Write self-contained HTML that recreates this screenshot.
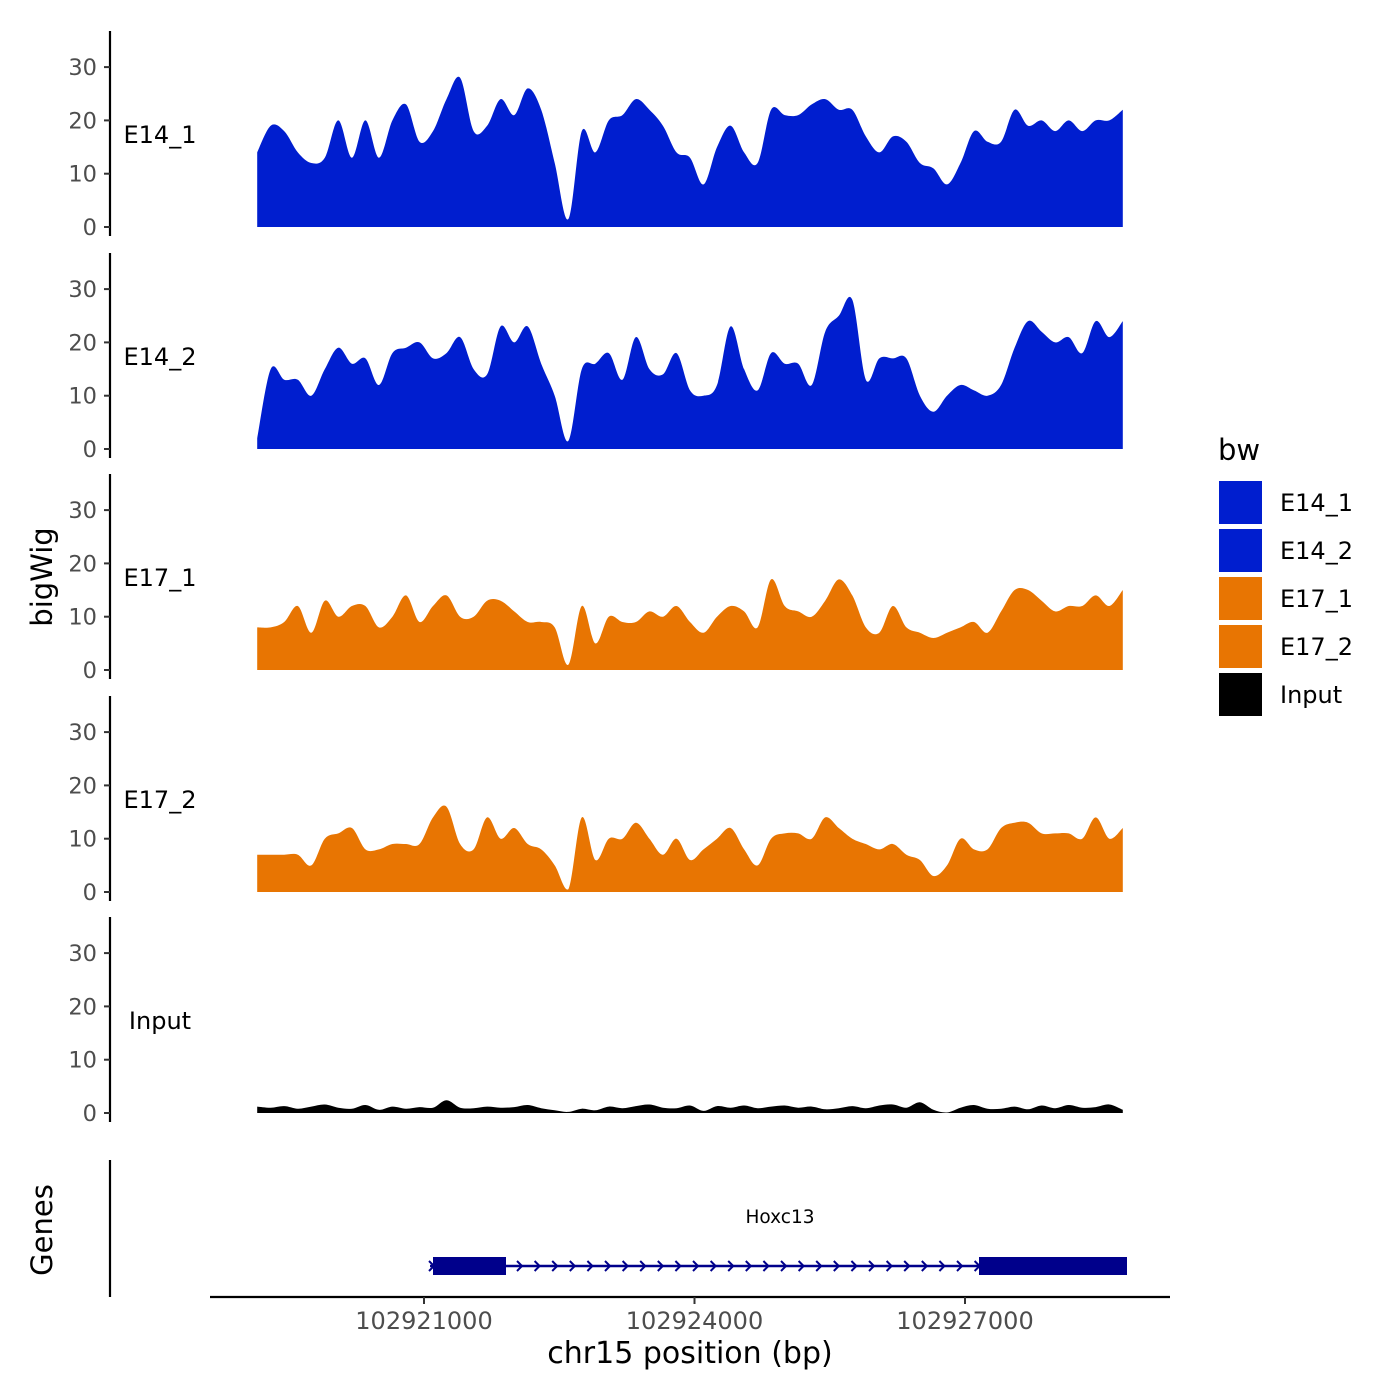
<!DOCTYPE html>
<html><head><meta charset="utf-8">
<style>
html,body{margin:0;padding:0;background:#fff;}
svg{display:block;font-family:"DejaVu Sans","Liberation Sans",sans-serif;}
</style></head>
<body>
<svg id="chart" width="1400" height="1400" viewBox="0 0 1400 1400">
<g id="panels"></g>
<g id="genes">
  <line x1="110" y1="1160" x2="110" y2="1297" stroke="#000" stroke-width="2.2"/>
  <text x="52" y="1230" font-size="29" text-anchor="middle" transform="rotate(-90 52 1230)">Genes</text>
  <text x="780" y="1223" font-size="18.5" text-anchor="middle">Hoxc13</text>
  <line x1="430" y1="1266" x2="1127" y2="1266" stroke="#00008B" stroke-width="2.5"/>
  <g id="chevrons"></g>
  <rect x="433" y="1257" width="73" height="18" fill="#00008B"/>
  <rect x="979" y="1257" width="148" height="18" fill="#00008B"/>
</g>
<g id="xaxis">
  <line x1="210" y1="1297" x2="1170" y2="1297" stroke="#000" stroke-width="2.2"/>
</g>
<text x="690" y="1363" font-size="30" text-anchor="middle">chr15 position (bp)</text>
<text x="52" y="577" font-size="29" text-anchor="middle" transform="rotate(-90 52 577)">bigWig</text>
<g id="legend">
  <text x="1218" y="460" font-size="29">bw</text>
</g>
</svg>
<script>
const start = 102919150;
const binSize = 150;
const xTicks = [102921000, 102924000, 102927000];
const yTicks = [0, 10, 20, 30];
const trackNames = ["E14_1", "E14_2", "E17_1", "E17_2", "Input"];
const trackColors = ["#001ECF", "#001ECF", "#E87502", "#E87502", "#000000"];
const e14_1 = [14,19,18,14,12,13,20,13,20,13,20,23,16,18,24,28,18,19,24,21,26,22,12,1.5,18,14,20,21,24,22,19,14,13,8,15,19,14,12,22,21,21,23,24,22,22,17,14,17,16,12,11,8,12,18,16,16,22,19,20,18,20,18,20,20,22];
const e14_2 = [2,15,13,13,10,15,19,16,17,12,18,19,20,17,18,21,15,14,23,20,23,16,10,1.5,15,16,18,13,21,15,14,18,11,10,12,23,15,11,18,16,16,12,22,25,28,13,17,17,17,10,7,10,12,11,10,12,19,24,22,20,21,18,24,21,24];
const e17_1 = [8,8,9,12,7,13,10,12,12,8,10,14,9,12,14,10,10,13,13,11,9,9,8,1,12,5,10,9,9,11,10,12,9,7,10,12,11,8,17,12,11,10,13,17,14,8,7,12,8,7,6,7,8,9,7,11,15,15,13,11,12,12,14,12,15];
const e17_2 = [7,7,7,7,5,10,11,12,8,8,9,9,9,14,16,9,8,14,10,12,9,8,5,0.5,14,6,10,10,13,10,7,10,6,8,10,12,8,5,10,11,11,10,14,12,10,9,8,9,7,6,3,5,10,8,8,12,13,13,11,11,11,10,14,10,12];
const input = [1.2,1,1.3,0.8,1.2,1.6,1,0.8,1.5,0.6,1.2,0.8,1.1,1,2.4,1,0.9,1.2,1,1.1,1.5,0.9,0.5,0.2,0.8,0.5,1.2,0.9,1.3,1.6,1,0.9,1.4,0.4,1.3,1,1.4,0.9,1.2,1.4,1,1.2,0.7,0.9,1.3,0.9,1.4,1.6,1,2,0.6,0.1,1,1.5,0.8,0.8,1.2,0.7,1.4,0.9,1.5,1,1.1,1.6,0.6];
const series = [e14_1, e14_2, e17_1, e17_2, input];

const NS = "http://www.w3.org/2000/svg";
function mk(tag, attrs, parent){const e=document.createElementNS(NS,tag);for(const k in attrs)e.setAttribute(k,attrs[k]);parent.appendChild(e);return e;}
const xScale = bp => 424 + (bp - 102921000) * (541 / 6000);
const zeros = [227, 449, 670, 892, 1113];
const pxPerUnit = 5.33;

const panels = document.getElementById("panels");
series.forEach((vals, t) => {
  const y0 = zeros[t];
  const yScale = v => y0 - v * pxPerUnit;
  const g = mk("g", {}, panels);
  
  
  const al = mk("line", {x1:110,y1:y0-196,x2:110,y2:y0+9,stroke:"#000","stroke-width":2.2}, g);
  
  
  yTicks.forEach(v => {
    const tk = mk("line", {x1:104,x2:110,y1:yScale(v),y2:yScale(v),stroke:"#333","stroke-width":2}, g);
    
    
    const tl = mk("text", {x:97,y:yScale(v)+8,"font-size":22.5,"text-anchor":"end",fill:"#4d4d4d"}, g);
    tl.textContent = v;
    
    
  });
  const lab = mk("text", {x:160,y:y0-84,"font-size":24,"text-anchor":"middle"}, g);
  lab.textContent = trackNames[t];
  
  
  const pts = vals.map((v, i) => [xScale(start + i * binSize), yScale(v)]);
  let d = "M" + pts[0][0].toFixed(1) + "," + y0 + " L" + pts[0][0].toFixed(1) + "," + pts[0][1].toFixed(1);
  for (let i = 0; i < pts.length - 1; i++) {
    const p0 = pts[Math.max(0, i - 1)], p1 = pts[i], p2 = pts[i + 1], p3 = pts[Math.min(pts.length - 1, i + 2)];
    const c1x = p1[0] + (p2[0] - p0[0]) / 6, c1y = Math.min(y0, p1[1] + (p2[1] - p0[1]) / 6);
    const c2x = p2[0] - (p3[0] - p1[0]) / 6, c2y = Math.min(y0, p2[1] - (p3[1] - p1[1]) / 6);
    d += ` C${c1x.toFixed(1)},${c1y.toFixed(1)} ${c2x.toFixed(1)},${c2y.toFixed(1)} ${p2[0].toFixed(1)},${p2[1].toFixed(1)}`;
  }
  d += " L" + pts[pts.length - 1][0].toFixed(1) + "," + y0 + " Z";
  const area = mk("path", {d:d, fill:trackColors[t]}, g);
  
  
});

const xa = document.getElementById("xaxis");
xTicks.forEach(b => {
  const x = xScale(b);
  const tk = mk("line", {x1:x,x2:x,y1:1297,y2:1304,stroke:"#333","stroke-width":2}, xa);
  
  
  const tl = mk("text", {x:x,y:1329,"font-size":24,"text-anchor":"middle",fill:"#4d4d4d"}, xa);
  tl.textContent = b;
  
  
});

const ch = document.getElementById("chevrons");
for (let x = 432; x < 1120; x += 17.6) {
  const p = mk("path", {d:`M${x-3},${1261} L${x+2},${1266} L${x-3},${1271}`, fill:"none", stroke:"#00008B","stroke-width":2}, ch);
  
  
}

const lg = document.getElementById("legend");
trackNames.forEach((n, i) => {
  const y = 481 + i * 48;
  const r = mk("rect", {x:1219,y:y,width:43,height:43,fill:trackColors[i]}, lg);
  
  
  const tx = mk("text", {x:1280,y:y+30,"font-size":24}, lg);
  tx.textContent = n;
  
  
});
</script>
</body></html>
